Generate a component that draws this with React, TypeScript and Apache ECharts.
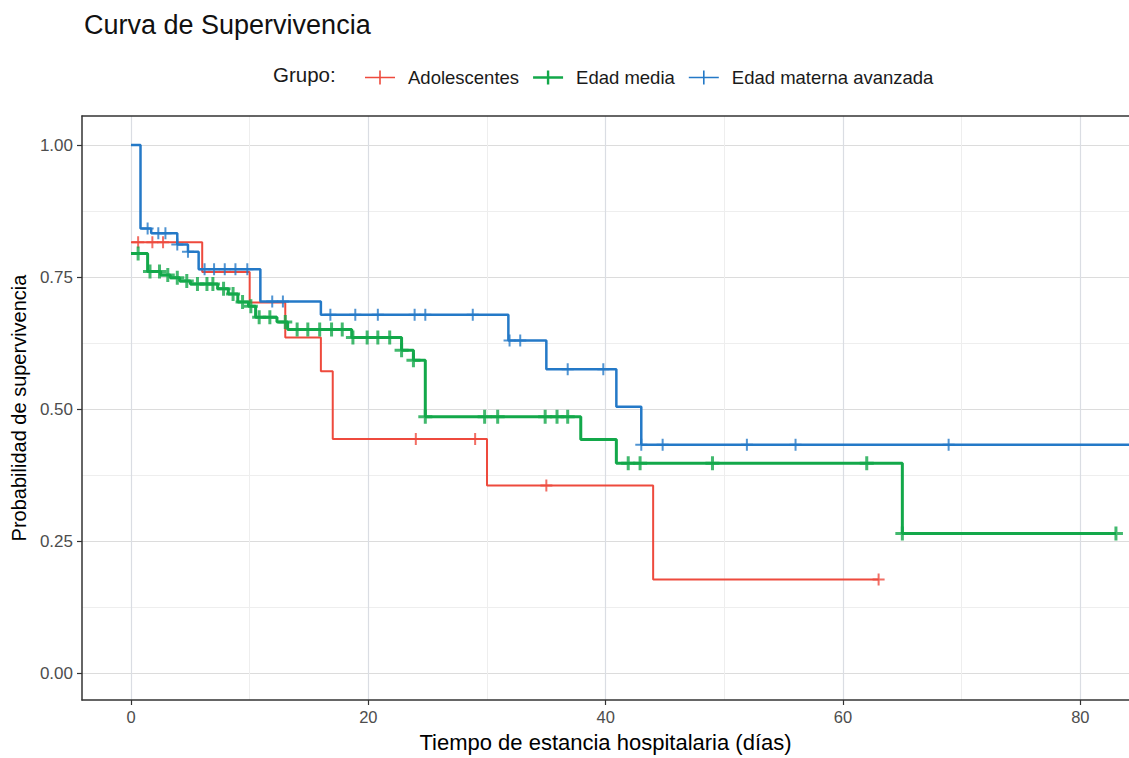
import React, { useEffect, useRef } from "react";
import * as echarts from "echarts";

const groupNames = ["Adolescentes", "Edad media", "Edad materna avanzada"];
const colors = ["#EE4A3D", "#13A84A", "#2479C7"];

// Kaplan-Meier steps: [time, survival after step]
const adolSteps: [number, number][] = [
  [0, 0.816], [6, 0.76], [10, 0.702], [13, 0.636], [16, 0.572], [17, 0.444],
  [30, 0.356], [44, 0.178], [63, 0.178],
];
const adolCensor = [0.6, 1.8, 2.7, 24, 29, 35, 63];

const mediaSteps: [number, number][] = [
  [0, 0.795], [1.4, 0.761], [2.5, 0.754], [3.3, 0.749], [4.1, 0.743], [5.0, 0.737],
  [7.3, 0.728], [8.2, 0.718], [9.0, 0.703], [9.9, 0.695], [10.5, 0.674], [12.3, 0.665],
  [13.2, 0.651], [18.6, 0.636], [22.8, 0.612], [23.8, 0.593], [24.8, 0.486],
  [37.9, 0.443], [40.9, 0.398], [65, 0.265], [83, 0.265],
];
const mediaCensor = [
  0.6, 1.6, 2.4, 3.1, 3.9, 4.7, 5.6, 6.4, 6.9, 7.8, 8.6, 9.4, 10.1, 10.8, 11.7, 13.0,
  14.0, 14.9, 15.9, 16.9, 17.8, 18.7, 19.9, 20.8, 21.8, 22.8, 23.8, 24.8, 29.8, 30.9,
  34.9, 35.9, 36.8, 41.9, 42.9, 49, 62, 65, 83,
];

const avanzSteps: [number, number][] = [
  [0, 1.0], [0.8, 0.842], [1.7, 0.833], [3.9, 0.812], [4.8, 0.798], [5.7, 0.765],
  [10.9, 0.704], [16, 0.679], [31.8, 0.63], [35, 0.576], [40.9, 0.505], [43, 0.433],
  [88, 0.433],
];
const avanzCensor = [
  1.4, 2.3, 2.9, 3.9, 4.8, 6.2, 7.0, 7.9, 8.8, 9.8, 11.9, 12.8, 16.8, 18.9, 20.8, 23.9,
  24.8, 28.8, 31.9, 32.8, 36.8, 39.8, 43, 44.8, 51.9, 56, 68.9,
];

const xTicks = [0, 20, 40, 60, 80];
const xMinor = [10, 30, 50, 70];
const yTicks = [0, 0.25, 0.5, 0.75, 1];
const yMinor = [0.125, 0.375, 0.625, 0.875];

const FONT = "'Liberation Sans', Arial, Helvetica, sans-serif";

function survAt(steps: [number, number][], t: number): number {
  let s = steps[0][1];
  for (const [time, val] of steps) {
    if (time <= t + 1e-9) s = val;
  }
  return s;
}

const plusThin = "path://M-1,-6h2v5h5v2h-5v5h-2v-5h-5v-2h5z";
const plusThick = "path://M-1.5,-7h3v5.5h5.5v3h-5.5v5.5h-3v-5.5h-5.5v-3h5.5z";
const legendThin = "path://M0,6.2h30v1.6h-30z M14.2,0h1.6v14h-1.6z";
const legendThick = "path://M0,5.8h30v2.4h-30z M13.8,0h2.4v14h-2.4z";

export default function App() {
  const ref = useRef<HTMLDivElement>(null);
  useEffect(() => {
    if (!ref.current) return;
    const chart = echarts.init(ref.current, null, { renderer: "svg" });
    const stepsList = [adolSteps, mediaSteps, avanzSteps];
    const censorList = [adolCensor, mediaCensor, avanzCensor];
    const widths = [2, 3, 2.5];
    const lineSeries = stepsList.map((steps, i) => ({
      type: "line",
      name: groupNames[i],
      data: steps,
      step: "end",
      showSymbol: false,
      symbol: "none",
      lineStyle: { color: colors[i], width: widths[i] },
      itemStyle: { color: colors[i] },
      z: 2 + i,
      silent: true,
    }));
    const censorSeries = censorList.map((cs, i) => ({
      type: "scatter",
      name: groupNames[i],
      data: cs.map((t) => [t, survAt(stepsList[i], t)]),
      symbol: i === 1 ? plusThick : plusThin,
      symbolSize: i === 1 ? 14 : 12,
      itemStyle: { color: colors[i] },
      z: 5 + i,
      silent: true,
    }));
    chart.setOption({
      animation: false,
      backgroundColor: "#ffffff",
      textStyle: { fontFamily: FONT },
      title: {
        text: "Curva de Supervivencia",
        left: 79,
        top: 6,
        textStyle: { fontSize: 27, fontWeight: "normal", color: "#111111", fontFamily: FONT },
      },
      legend: {
        top: 63,
        left: 360,
        itemWidth: 30,
        itemHeight: 14,
        itemGap: 14,
        data: groupNames.map((n, i) => ({
          name: n,
          icon: i === 1 ? legendThick : legendThin,
          itemStyle: { color: colors[i] },
        })),
        textStyle: { fontSize: 18.5, color: "#1a1a1a", fontFamily: FONT, padding: [0, 0, 0, 8] },
      },
      graphic: [
        {
          type: "text",
          x: 273,
          y: 74,
          style: {
            text: "Grupo:",
            fontSize: 20.5,
            fontFamily: FONT,
            fill: "#1a1a1a",
            verticalAlign: "middle",
          },
        },
      ],
      grid: { left: 82, top: 116, width: 1047, height: 589, containLabel: false },
      xAxis: [
        {
          type: "value",
          min: -4.13,
          max: 84.1,
          position: "bottom",
          name: "Tiempo de estancia hospitalaria (días)",
          nameLocation: "middle",
          nameGap: 31,
          nameTextStyle: { fontSize: 22, color: "#000", fontFamily: FONT },
          axisLine: { show: true, onZero: false, lineStyle: { color: "#333333", width: 1.5 } },
          axisTick: { show: true, length: 5, customValues: xTicks, lineStyle: { color: "#333333", width: 1.2 } },
          axisLabel: { customValues: xTicks, fontSize: 16.5, color: "#4D4D4D", margin: 8, fontFamily: FONT },
          splitLine: { show: true, lineStyle: { color: "#DADDE3", width: 1.2 } },
        },
        {
          type: "value",
          min: -4.13,
          max: 84.1,
          position: "top",
          axisLine: { show: true, onZero: false, lineStyle: { color: "#333333", width: 1.5 } },
          axisTick: { show: false, customValues: xMinor },
          axisLabel: { show: false },
          splitLine: { show: true, lineStyle: { color: "#EEEEEE", width: 1 } },
        },
      ],
      yAxis: [
        {
          type: "value",
          min: -0.05,
          max: 1.055,
          position: "left",
          name: "Probabilidad de supervivencia",
          nameLocation: "middle",
          nameGap: 52,
          nameTextStyle: { fontSize: 20, color: "#000", fontFamily: FONT },
          axisLine: { show: true, onZero: false, lineStyle: { color: "#333333", width: 1.5 } },
          axisTick: { show: true, length: 5, customValues: yTicks, lineStyle: { color: "#333333", width: 1.2 } },
          axisLabel: {
            customValues: yTicks,
            fontSize: 17,
            color: "#4D4D4D",
            margin: 9,
            fontFamily: FONT,
            formatter: (v: number) => v.toFixed(2),
          },
          splitLine: { show: true, lineStyle: { color: "#DCDCDC", width: 1.2 } },
        },
        {
          type: "value",
          min: -0.05,
          max: 1.055,
          position: "right",
          axisLine: { show: false, onZero: false },
          axisTick: { show: false, customValues: yMinor },
          axisLabel: { show: false },
          splitLine: { show: true, lineStyle: { color: "#EEEEEE", width: 1 } },
        },
      ],
      series: [...lineSeries, ...censorSeries],
    });
    return () => chart.dispose();
  }, []);
  return (
    <div
      ref={ref}
      style={{ position: "absolute", left: 0, top: 0, width: 1129, height: 758 }}
    />
  );
}
